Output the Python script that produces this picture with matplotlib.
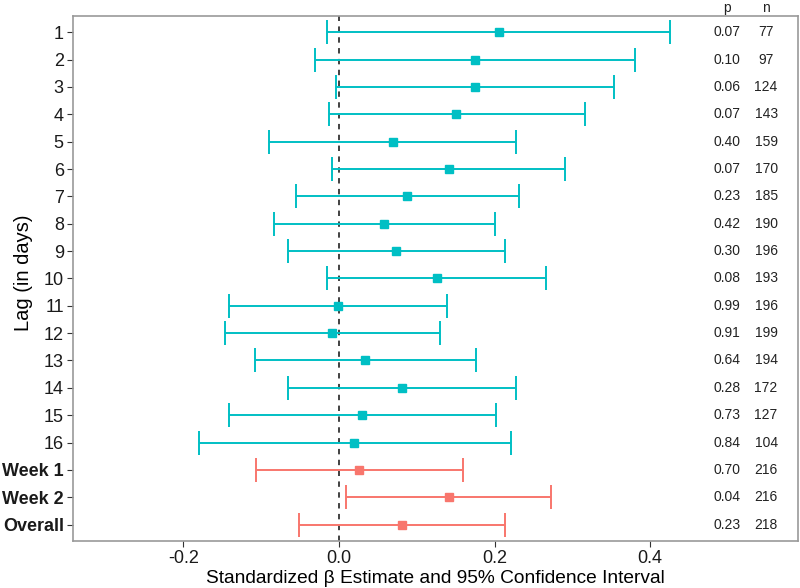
import numpy as np
import matplotlib.pyplot as plt

plt.rcParams['font.family'] = ['Liberation Sans', 'DejaVu Sans']

labels = [str(i) for i in range(1, 17)] + ["Week 1", "Week 2", "Overall"]
estimate = [0.206, 0.175, 0.175, 0.151, 0.069, 0.141, 0.088, 0.058, 0.074, 0.126,
            -0.001, -0.009, 0.034, 0.081, 0.030, 0.020, 0.026, 0.141, 0.081]
lower = [-0.015, -0.031, -0.004, -0.013, -0.090, -0.009, -0.055, -0.083, -0.065, -0.015,
         -0.141, -0.147, -0.108, -0.066, -0.141, -0.180, -0.107, 0.009, -0.051]
upper = [0.426, 0.381, 0.353, 0.316, 0.227, 0.290, 0.232, 0.201, 0.214, 0.266,
         0.139, 0.130, 0.176, 0.227, 0.202, 0.221, 0.159, 0.272, 0.214]
pvals = ["0.07", "0.10", "0.06", "0.07", "0.40", "0.07", "0.23", "0.42", "0.30", "0.08",
         "0.99", "0.91", "0.64", "0.28", "0.73", "0.84", "0.70", "0.04", "0.23"]
nvals = ["77", "97", "124", "143", "159", "170", "185", "190", "196", "193",
         "196", "199", "194", "172", "127", "104", "216", "216", "218"]
group = ["lag"] * 16 + ["summary"] * 3

colors = {"lag": "#00BFC4", "summary": "#F8766D"}

fig = plt.figure(figsize=(8, 5.88), dpi=100)
ax = fig.add_axes([0.091, 0.080, 0.9065, 0.893])

ypos = np.arange(1, len(labels) + 1)
for i in range(len(labels)):
    c = colors[group[i]]
    ax.errorbar(estimate[i], ypos[i],
                xerr=[[estimate[i] - lower[i]], [upper[i] - estimate[i]]],
                fmt='s', color=c, ecolor=c, elinewidth=1.4, capsize=8.6,
                capthick=1.4, markersize=6.2, zorder=3)
    ax.text(0.499, ypos[i], pvals[i], ha='center', va='center', fontsize=10, color='#222222')
    ax.text(0.549, ypos[i], nvals[i], ha='center', va='center', fontsize=10, color='#222222')

# column headers above the panel
ax.text(0.499, 0.1, "p", ha='center', va='center', fontsize=10, color='#222222', clip_on=False)
ax.text(0.549, 0.1, "n", ha='center', va='center', fontsize=10, color='#222222', clip_on=False)

ax.axvline(0, color='#333333', linestyle=(0, (3, 3)), linewidth=1.3, zorder=2)

ax.set_xlim(-0.342, 0.590)
ax.set_ylim(19.6, 0.4)
ax.set_xticks([-0.2, 0.0, 0.2, 0.4])
ax.set_xticklabels(["-0.2", "0.0", "0.2", "0.4"])
ax.set_yticks(ypos)
ax.set_yticklabels(labels)
for t in ax.get_yticklabels()[16:]:
    t.set_fontweight('bold')

ax.tick_params(axis='both', labelsize=13, colors='#333333', length=4, width=0.8, pad=2.5)
ax.tick_params(axis='both', labelcolor='#1a1a1a')
for s in ax.spines.values():
    s.set_color('#999999')
    s.set_linewidth(1.2)

ax.set_xlabel("Standardized β Estimate and 95% Confidence Interval", fontsize=13.8, va='center')
ax.xaxis.set_label_coords(0.5, -0.071)
ax.set_ylabel("Lag (in days)", fontsize=14.5, va='center')
ax.yaxis.set_label_coords(-0.068, 0.51)

fig.savefig("out.png", dpi=100)
